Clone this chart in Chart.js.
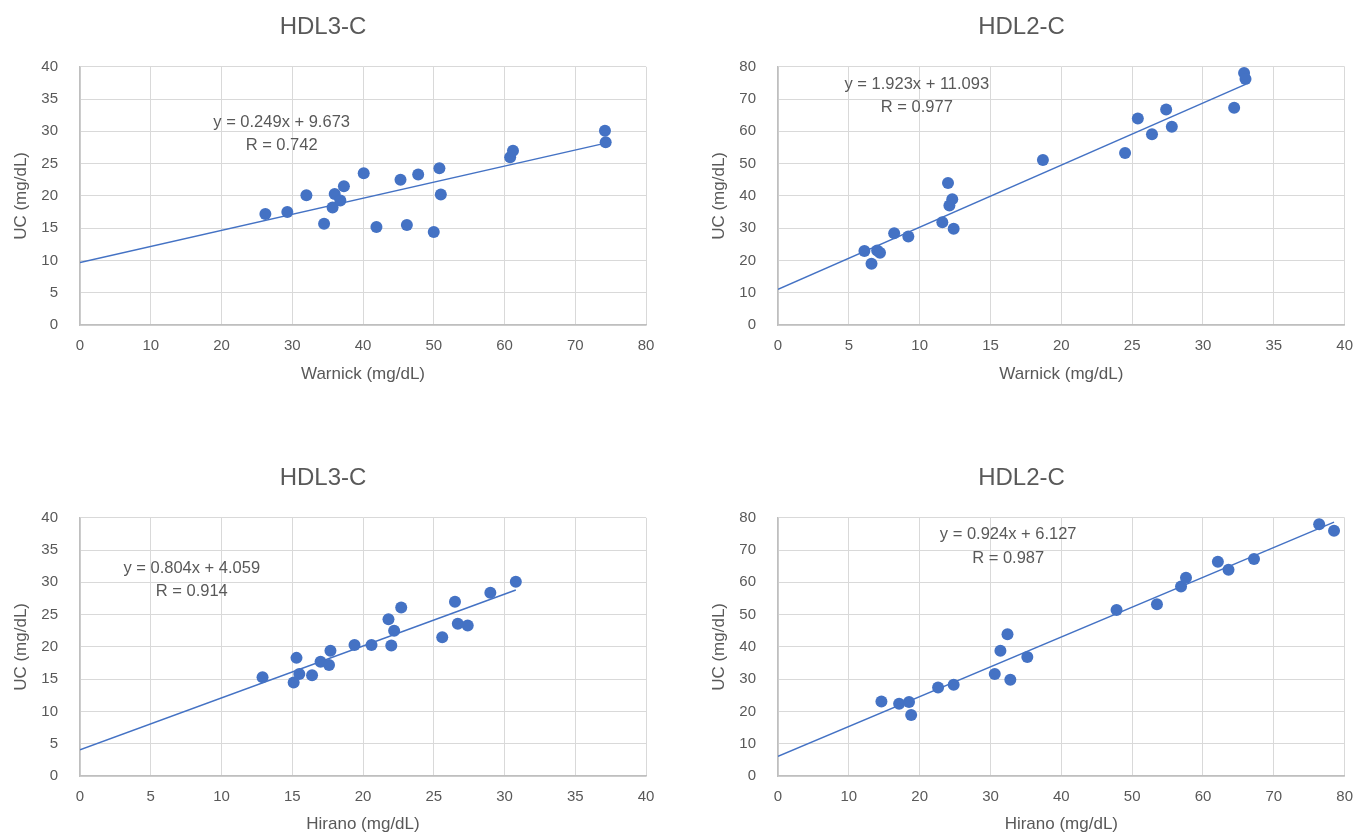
<!DOCTYPE html>
<html>
<head>
<meta charset="utf-8">
<script src="https://cdn.jsdelivr.net/npm/chart.js@4.4.0/dist/chart.umd.min.js"></script>
<style>
  body { margin: 0; background: #fff; width: 1356px; height: 838px; overflow: hidden; position: relative; }
  .box { position: absolute; }
</style>
</head>
<body>
<div class="box" style="left:0;top:0;width:660px;height:388px"><canvas id="c1"></canvas></div>
<div class="box" style="left:698px;top:0;width:658px;height:388px"><canvas id="c2"></canvas></div>
<div class="box" style="left:0;top:451px;width:660px;height:387px"><canvas id="c3"></canvas></div>
<div class="box" style="left:698px;top:451px;width:658px;height:387px"><canvas id="c4"></canvas></div>
<script>
// panel titles and axis labels
const titles = ["HDL3-C", "HDL2-C", "HDL3-C", "HDL2-C"];
const xTitles = ["Warnick (mg/dL)", "Warnick (mg/dL)", "Hirano (mg/dL)", "Hirano (mg/dL)"];
const yTitle = "UC (mg/dL)";
const xMax = [80, 40, 40, 80];
const xStep = [10, 5, 5, 10];
const yMax = [40, 80, 40, 80];
const yStep = [5, 10, 5, 10];

// HDL3-C : Warnick vs UC
const warnick3 = [26.2, 29.3, 32.0, 34.5, 35.7, 36.0, 36.8, 37.3, 40.1, 41.9, 45.3, 46.2, 47.8, 50.0, 50.8, 51.0, 60.8, 61.2, 74.2, 74.3];
const ucW3 = [17.2, 17.5, 20.1, 15.7, 18.2, 20.3, 19.3, 21.5, 23.5, 15.2, 22.5, 15.5, 23.3, 14.4, 24.3, 20.2, 26.0, 27.0, 30.1, 28.3];

// HDL2-C : Warnick vs UC
const warnick2 = [6.1, 6.6, 7.0, 7.2, 8.2, 9.2, 11.6, 12.0, 12.1, 12.3, 12.4, 18.7, 24.5, 25.4, 26.4, 27.4, 27.8, 32.2, 32.9, 33.0];
const ucW2 = [22.9, 19.0, 23.1, 22.4, 28.4, 27.4, 31.8, 44.0, 37.0, 39.0, 29.8, 51.1, 53.3, 64.0, 59.1, 66.8, 61.4, 67.3, 78.1, 76.2];

// HDL3-C : Hirano vs UC
const hirano3 = [12.9, 15.1, 15.3, 15.5, 16.4, 17.0, 17.6, 17.7, 19.4, 20.6, 21.8, 22.0, 22.2, 22.7, 25.6, 26.5, 26.7, 27.4, 29.0, 30.8];
const ucH3 = [15.3, 14.5, 18.3, 15.8, 15.6, 17.7, 17.2, 19.4, 20.3, 20.3, 24.3, 20.2, 22.5, 26.1, 21.5, 27.0, 23.6, 23.3, 28.4, 30.1];

// HDL2-C : Hirano vs UC
const hirano2 = [14.6, 17.1, 18.5, 18.8, 22.6, 24.8, 30.6, 31.4, 32.4, 32.8, 35.2, 47.8, 53.5, 56.9, 57.6, 62.1, 63.6, 67.2, 76.4, 78.5];
const ucH2 = [23.1, 22.4, 22.9, 18.9, 27.4, 28.3, 31.6, 38.8, 43.9, 29.8, 36.9, 51.4, 53.2, 58.7, 61.4, 66.4, 63.9, 67.2, 78.0, 76.0];

// trendline equations shown on each panel
const slopes = [0.249, 1.923, 0.804, 0.924];
const intercepts = [9.673, 11.093, 4.059, 6.127];
const rValues = [0.742, 0.977, 0.914, 0.987];
// where the equation text sits, in data units: [x, y of equation, y of R]
const eqAt = [[28.5, 31.4, 27.8], [9.8, 74.4, 67.5], [7.9, 32.2, 28.6], [32.5, 74.8, 67.5]];

const xs = [warnick3, warnick2, hirano3, hirano2];
const ys = [ucW3, ucW2, ucH3, ucH2];

const blue = "#4472C4";
const grey = "#595959";
const fam = "'Liberation Sans', Arial, sans-serif";

const eqLabel = {
  id: "eqLabel",
  afterDatasetsDraw(chart, args, opts) {
    const { ctx, scales } = chart;
    const px = scales.x.getPixelForValue(opts.at[0]);
    ctx.save();
    ctx.font = "16.5px " + fam;
    ctx.fillStyle = grey;
    ctx.textAlign = "center";
    ctx.textBaseline = "middle";
    ctx.fillText(opts.lines[0], px, scales.y.getPixelForValue(opts.at[1]));
    ctx.fillText(opts.lines[1], px, scales.y.getPixelForValue(opts.at[2]));
    ctx.restore();
  }
};

const rightPad = [14, 11, 14, 11];

for (let i = 0; i < 4; i++) {
  const pts = xs[i].map((x, k) => ({ x: x, y: ys[i][k] }));
  const xEnd = Math.max(...xs[i]);
  const trend = [
    { x: 0, y: intercepts[i] },
    { x: xEnd, y: slopes[i] * xEnd + intercepts[i] }
  ];
  const eqText = "y = " + slopes[i].toFixed(3) + "x + " + intercepts[i].toFixed(3);

  new Chart(document.getElementById("c" + (i + 1)), {
    type: "scatter",
    data: {
      datasets: [
        { data: pts, backgroundColor: blue, borderWidth: 0, pointRadius: 6, pointHoverRadius: 6 },
        { data: trend, showLine: true, borderColor: blue, borderWidth: 1.5, pointRadius: 0, pointHoverRadius: 0 }
      ]
    },
    options: {
      responsive: true,
      maintainAspectRatio: false,
      animation: false,
      events: [],
      layout: { padding: { left: 0, right: rightPad[i], top: 0, bottom: 0 } },
      plugins: {
        legend: { display: false },
        tooltip: { enabled: false },
        title: {
          display: true,
          text: titles[i],
          color: grey,
          font: { family: fam, size: 24, weight: "normal" },
          padding: { top: 13, bottom: 25 }
        },
        eqLabel: { at: eqAt[i], lines: [eqText, "R = " + rValues[i].toFixed(3)] }
      },
      scales: {
        x: {
          type: "linear",
          min: 0,
          max: xMax[i],
          ticks: { stepSize: xStep[i], padding: 3, color: grey, font: { family: fam, size: 15 } },
          // invisible tick marks push the labels down without widening the right padding
          grid: { color: "#d9d9d9", drawTicks: true, tickLength: 9, tickColor: "rgba(0,0,0,0)" },
          border: { color: "#bfbfbf", width: 1.5 },
          title: { display: true, text: xTitles[i], color: grey, font: { family: fam, size: 17 }, padding: { top: 0, bottom: 3 } },
          afterFit: s => { s.height = i < 2 ? 63 : 62; }
        },
        y: {
          type: "linear",
          min: 0,
          max: yMax[i],
          ticks: { stepSize: yStep[i], padding: 22, color: grey, font: { family: fam, size: 15 } },
          grid: { color: "#d9d9d9", drawTicks: false },
          border: { color: "#bfbfbf", width: 1.5 },
          title: { display: true, text: yTitle, color: grey, font: { family: fam, size: 17 }, padding: { top: 11, bottom: 0 } },
          afterFit: s => { s.width = 80; }
        }
      }
    },
    plugins: [eqLabel]
  });
}
</script>
</body>
</html>
